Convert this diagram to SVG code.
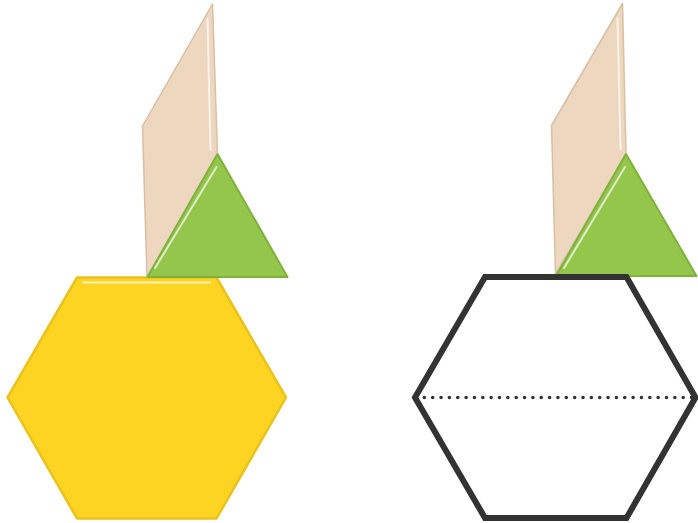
<svg xmlns="http://www.w3.org/2000/svg" width="698" height="523" viewBox="0 0 698 523">
<style>
.par{fill:#EDD7BF;stroke:#D9BFA3;stroke-width:1.5;stroke-linejoin:round}
.tri{fill:#93C64B;stroke:#7FB23B;stroke-width:2;stroke-linejoin:round}
.hex{fill:#FCD421;stroke:#EBC21C;stroke-width:2.5;stroke-linejoin:round}
.hl{stroke:#FFFFFF;stroke-opacity:0.7;stroke-width:2;stroke-linecap:round;fill:none}
.outline{fill:none;stroke:#333333;stroke-width:6;stroke-linejoin:miter}
.dots{stroke:#333333;stroke-width:3.6;stroke-linecap:round;stroke-dasharray:0 8.35;fill:none}
</style>
<rect width="698" height="523" fill="#FFFFFF"/>
<g id="left-hexagon">
<polygon class="hex" points="77,277.5 216.5,277.5 286,397.5 216.5,518.5 77,518.5 7.5,397.5"/>
<line class="hl" x1="83" y1="282.5" x2="210" y2="282.5"/>
</g>
<g id="left-parallelogram">
<polygon class="par" points="212.5,4 142.5,126 147,277 217.5,154"/>
<line class="hl" x1="207.5" y1="19" x2="210.5" y2="150"/>
</g>
<g id="left-triangle">
<polygon class="tri" points="217.5,154 147.5,277 287.5,277"/>
<line class="hl" x1="216.5" y1="167" x2="155" y2="268"/>
</g>
<g id="right-parallelogram">
<polygon class="par" points="622.5,3.5 551.5,125.5 555.5,274 626,154"/>
<line class="hl" x1="617.5" y1="18" x2="620.5" y2="149"/>
</g>
<g id="right-triangle">
<polygon class="tri" points="626,154 556,276 696.5,276"/>
<line class="hl" x1="625" y1="167" x2="564" y2="268"/>
</g>
<g id="right-hexagon">
<polygon class="outline" points="485,277 626.5,277 695.5,397.5 626.5,518 485,518 415,397.5"/>
</g>
<g id="connectors">
<line class="dots" x1="416" y1="397.5" x2="694" y2="397.5"/>
</g>
</svg>
